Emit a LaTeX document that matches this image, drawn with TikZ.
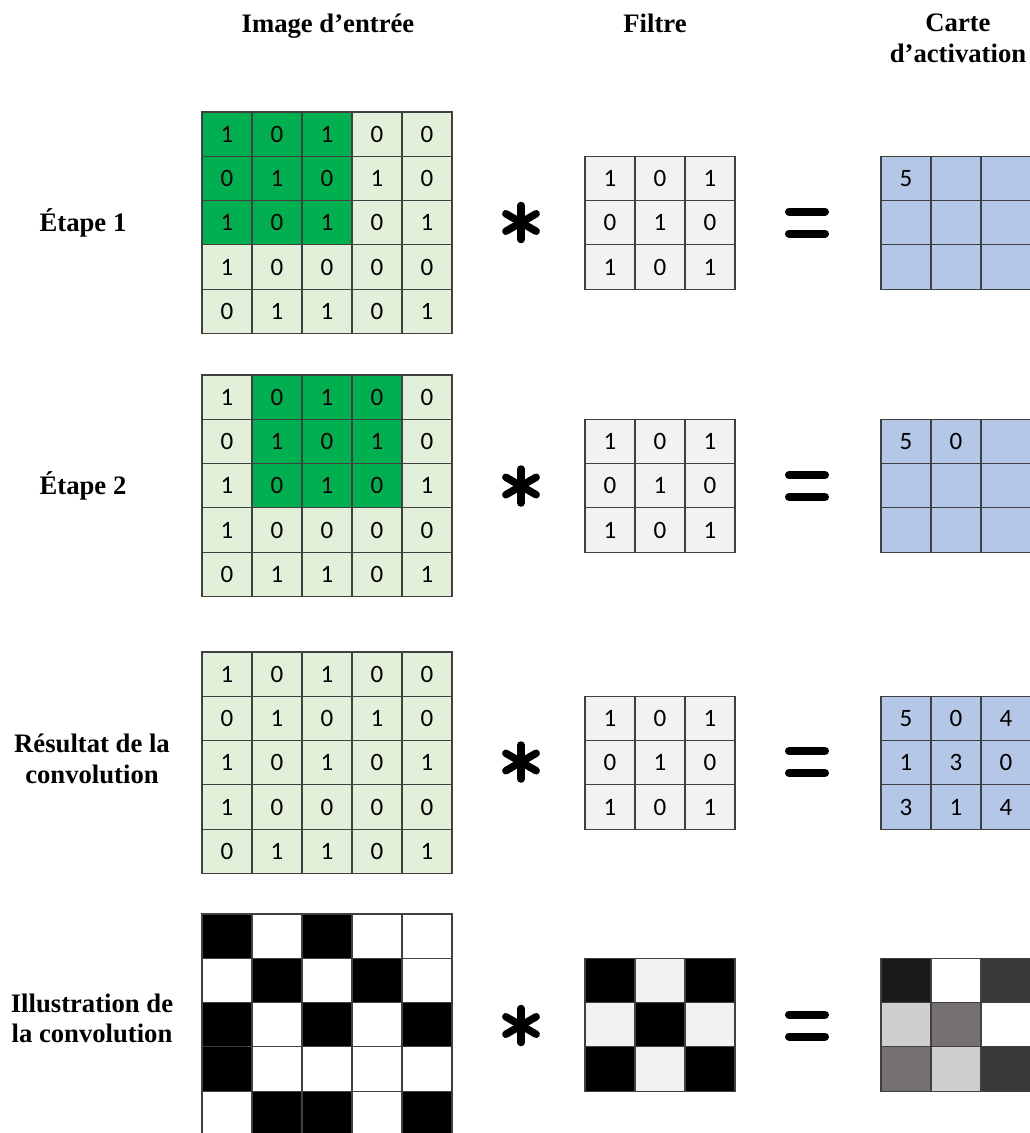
\documentclass[tikz,border=0pt]{standalone}
\usepackage{fontspec}
\setmainfont{Liberation Serif}
\newfontfamily\numfont{Carlito}
\definecolor{gdark}{HTML}{00B050}
\definecolor{glight}{HTML}{E2F0D9}
\definecolor{fgray}{HTML}{F2F2F2}
\definecolor{mblue}{HTML}{B4C7E7}
\definecolor{gline}{HTML}{404040}
\definecolor{m0}{HTML}{FFFFFF}
\definecolor{m1}{HTML}{D0CECE}
\definecolor{m3}{HTML}{767171}
\definecolor{m4}{HTML}{3B3838}
\definecolor{m5}{HTML}{1A1A1A}
\tikzset{
  cell/.style={draw=gline, line width=1.1pt, minimum width=50pt, minimum height=44.3pt,
    inner sep=0pt, font=\numfont\fontsize{25}{29}\selectfont, text=black},
  rowlab/.style={font=\fontsize{26.67}{30.7}\selectfont\bfseries, align=center, inner sep=0pt},
  hdr/.style={font=\fontsize{26.67}{30.7}\selectfont\bfseries, align=center, inner sep=0pt},
  opsym/.style={line width=8pt, line cap=round, black},
  astsym/.style={line width=7.5pt, line cap=round, black},
}
\def\inputrows{{1,0,1,0,0},{0,1,0,1,0},{1,0,1,0,1},{1,0,0,0,0},{0,1,1,0,1}}
\def\filterrows{{1,0,1},{0,1,0},{1,0,1}}
\def\e{}
% input grid: name, top, first highlighted col, last highlighted col
\newcommand\inputgrid[4]{%
  \foreach \row [count=\r] in \inputrows {
    \foreach \v [count=\c] in \row {
      \pgfmathtruncatemacro\hl{(\r<4)&&(\c>=#3)&&(\c<=#4)}
      \ifnum\hl=1\def\fc{gdark}\else\def\fc{glight}\fi
      \node[cell, fill=\fc] (#1-\r-\c) at ({177+50*\c},{#2-22.15+44.3*\r}) {\v};
    }
  }
}
% filter grid: name, top
\newcommand\filtergrid[2]{%
  \foreach \row [count=\r] in \filterrows {
    \foreach \v [count=\c] in \row {
      \node[cell, fill=fgray] (#1-\r-\c) at ({560+50*\c},{#2-22.15+44.3*\r}) {\v};
    }
  }
}
% activation map: name, top, rows
\newcommand\mapgrid[3]{%
  \foreach \row [count=\r] in {#3} {
    \foreach \v [count=\c] in \row {
      \node[cell, fill=mblue] (#1-\r-\c) at ({856+50*\c},{#2-22.15+44.3*\r}) {\v};
    }
  }
}
\begin{document}
\begin{tikzpicture}[x=1pt,y=-1pt]
\path[use as bounding box] (0,0) rectangle (1030,1133);
\clip (0,0) rectangle (1030,1133);

% headers
\node[hdr, anchor=base] (hin) at (328,32) {Image d’entrée};
\node[hdr, anchor=base] (hfil) at (655,32) {Filtre};
\node[hdr] (hmap) at (958,38.4) {Carte\\d’activation};

% row labels
\node[rowlab, anchor=base] (lab1) at (83,231) {Étape 1};
\node[rowlab, anchor=base] (lab2) at (83,494) {Étape 2};
\node[rowlab] (lab3) at (92,759) {Résultat de la\\convolution};
\node[rowlab] (lab4) at (92,1018.4) {Illustration de\\la convolution};

% row 1
\inputgrid{ina}{112}{1}{3}
\filtergrid{fia}{156.25}
\mapgrid{maa}{156.25}{{5,\e,\e},{\e,\e,\e},{\e,\e,\e}}
% row 2
\inputgrid{inb}{375}{2}{4}
\filtergrid{fib}{419.25}
\mapgrid{mab}{419.25}{{5,0,\e},{\e,\e,\e},{\e,\e,\e}}
% row 3
\inputgrid{inc}{652}{0}{0}
\filtergrid{fic}{696.25}
\mapgrid{mac}{696.25}{{5,0,4},{1,3,0},{3,1,4}}
% row 4: illustration
\foreach \row [count=\r] in \inputrows {
  \foreach \v [count=\c] in \row {
    \ifnum\v=1\def\fc{black}\else\def\fc{white}\fi
    \node[cell, fill=\fc] (ind-\r-\c) at ({177+50*\c},{914-22.15+44.3*\r}) {};
  }
}
\foreach \row [count=\r] in \filterrows {
  \foreach \v [count=\c] in \row {
    \ifnum\v=1\def\fc{black}\else\def\fc{fgray}\fi
    \node[cell, fill=\fc] (fid-\r-\c) at ({560+50*\c},{958.25-22.15+44.3*\r}) {};
  }
}
\foreach \row [count=\r] in {{5,0,4},{1,3,0},{3,1,4}} {
  \foreach \v [count=\c] in \row {
    \node[cell, fill=m\v] (mad-\r-\c) at ({856+50*\c},{958.25-22.15+44.3*\r}) {};
  }
}

% operators
\foreach \n/\y in {a/222.5, b/486, c/762, d/1025.5} {
  \coordinate (ast\n) at (521,\y);
  \draw[astsym] ([shift={(0,-17)}]ast\n) -- ([shift={(0,17)}]ast\n);
  \draw[astsym] ([shift={(150:17.5)}]ast\n) -- ([shift={(-30:17.5)}]ast\n);
  \draw[astsym] ([shift={(30:17.5)}]ast\n) -- ([shift={(210:17.5)}]ast\n);
  \coordinate (eq\n) at (807,\y);
  \draw[opsym] ([shift={(-18,-11)}]eq\n) -- ([shift={(18,-11)}]eq\n);
  \draw[opsym] ([shift={(-18,11)}]eq\n) -- ([shift={(18,11)}]eq\n);
}
\end{tikzpicture}
\end{document}
